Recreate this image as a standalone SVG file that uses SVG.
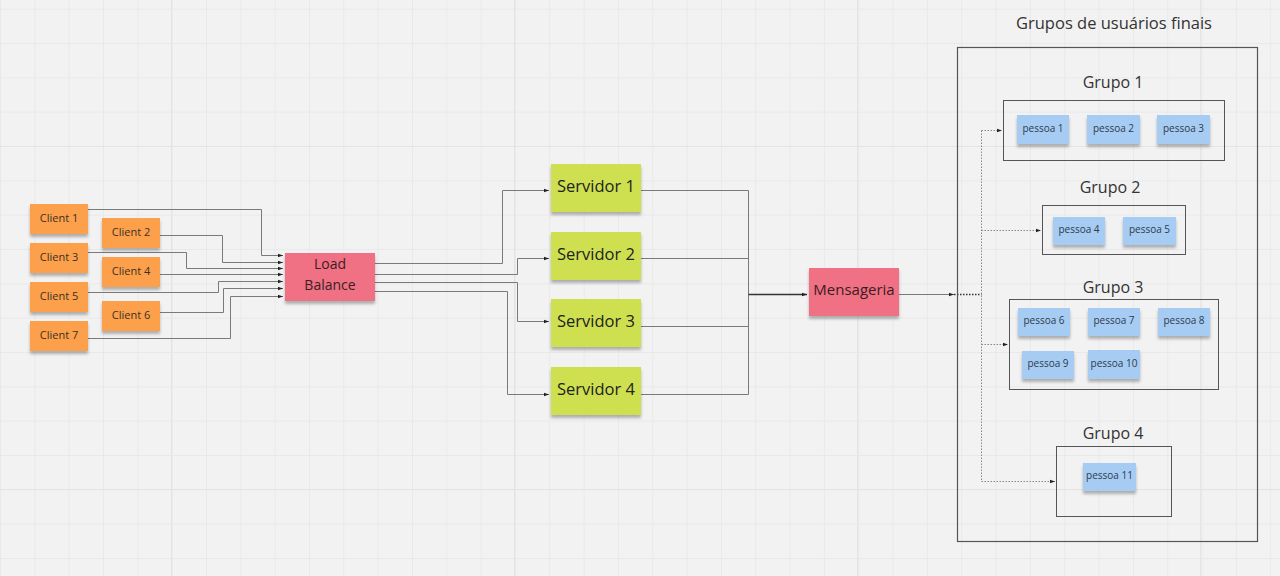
<svg xmlns="http://www.w3.org/2000/svg" width="1280" height="576" viewBox="0 0 1280 576">
<defs>
<pattern id="grid" x="0" y="8.7" width="34.33" height="34.33" patternUnits="userSpaceOnUse">
<path d="M0.5 0V34.33M0 0.5H34.33" stroke="#e9e9e9" stroke-width="1" fill="none"/>
</pattern>
<filter id="sh" x="-10%" y="-10%" width="120%" height="140%">
<feDropShadow dx="0" dy="3" stdDeviation="1.6" flood-color="#000" flood-opacity="0.28"/>
</filter>
<marker id="ar" viewBox="0 0 6 6" refX="6" refY="3" markerWidth="5" markerHeight="5" orient="auto" markerUnits="userSpaceOnUse">
<path d="M0 0.8L6 3L0 5.2Z" fill="#222"/>
</marker>
<style>
.orange{fill:#fda04c}
.green{fill:#cee04f}
.pink{fill:#f06f84}
.blue{fill:#a6ccf4}
.t{font-family:"Open Sans","Liberation Sans",sans-serif;fill:#222;text-anchor:middle;dominant-baseline:central}
.tc{font-size:11px;fill:#3a3026}
.ts{font-size:16.5px}
.tp{font-size:10px;fill:#2e3a4a}
.tg{font-size:16px;fill:#333}
.c{fill:none;stroke:#7a7a7a;stroke-width:1}
.d{fill:none;stroke:#888;stroke-width:1;stroke-dasharray:1.5 1.5}
.box{fill:none;stroke:#555;stroke-width:1}
</style>
</defs>
<rect width="1280" height="576" fill="#f2f2f2"/>
<rect width="1280" height="576" fill="url(#grid)"/>
<g stroke="#e4e4e4" stroke-width="1">
<line x1="171.5" y1="0" x2="171.5" y2="576"/>
<line x1="514.5" y1="0" x2="514.5" y2="576"/>
<line x1="857.5" y1="0" x2="857.5" y2="576"/>
<line x1="1200.5" y1="0" x2="1200.5" y2="576"/>
<line x1="0" y1="146.5" x2="1280" y2="146.5"/>
<line x1="0" y1="489.5" x2="1280" y2="489.5"/>
</g>

<g id="connectors">
<path class="c" d="M88 209.5H261.5V255.5H283" marker-end="url(#ar)"/>
<path class="c" d="M160 235.5H222.5V262.5H283" marker-end="url(#ar)"/>
<path class="c" d="M88 252.5H186.5V268.5H283" marker-end="url(#ar)"/>
<path class="c" d="M160 274.5H283" marker-end="url(#ar)"/>
<path class="c" d="M88 292.5H218.5V281.5H283" marker-end="url(#ar)"/>
<path class="c" d="M160 312.5H223.5V288.5H283" marker-end="url(#ar)"/>
<path class="c" d="M88 338.5H230.5V296.5H283" marker-end="url(#ar)"/>

<path class="c" d="M375 263.5H502.5V190.5H549" marker-end="url(#ar)"/>
<path class="c" d="M375 274.5H517.5V258.5H549" marker-end="url(#ar)"/>
<path class="c" d="M375 282.5H517.5V321.5H549" marker-end="url(#ar)"/>
<path class="c" d="M375 291.5H507.5V394.5H549" marker-end="url(#ar)"/>

<path class="c" d="M641 190.5H748.5V294.5"/>
<path class="c" d="M641 258.5H748.5V294.5"/>
<path class="c" d="M641 326.5H748.5V294.5"/>
<path class="c" d="M641 394.5H748.5V294.5"/>
<path d="M748.5 294.5H807" fill="none" stroke="#333" stroke-width="1.5" marker-end="url(#ar)"/>

<path class="c" d="M899 294.5H954" marker-end="url(#ar)"/>
<path d="M954 294.5H981.5" fill="none" stroke="#333" stroke-width="1.3" stroke-dasharray="1.5 1.5"/>
<path class="d" d="M981.5 130.5V481.5"/>
<path class="d" d="M981.5 130.5H1002" marker-end="url(#ar)"/>
<path class="d" d="M981.5 230.5H1041" marker-end="url(#ar)"/>
<path class="d" d="M981.5 344.5H1008" marker-end="url(#ar)"/>
<path class="d" d="M981.5 481.5H1055" marker-end="url(#ar)"/>
</g>

<g id="client1"><rect class="orange" x="30" y="204" width="58" height="30" filter="url(#sh)"/><text class="t tc" x="59" y="217">Client 1</text></g>
<g id="client2"><rect class="orange" x="102" y="218" width="58" height="30" filter="url(#sh)"/><text class="t tc" x="131" y="231">Client 2</text></g>
<g id="client3"><rect class="orange" x="30" y="243" width="58" height="30" filter="url(#sh)"/><text class="t tc" x="59" y="256">Client 3</text></g>
<g id="client4"><rect class="orange" x="102" y="257" width="58" height="30" filter="url(#sh)"/><text class="t tc" x="131" y="270">Client 4</text></g>
<g id="client5"><rect class="orange" x="30" y="282" width="58" height="30" filter="url(#sh)"/><text class="t tc" x="59" y="295">Client 5</text></g>
<g id="client6"><rect class="orange" x="102" y="301" width="58" height="30" filter="url(#sh)"/><text class="t tc" x="131" y="314">Client 6</text></g>
<g id="client7"><rect class="orange" x="30" y="321" width="58" height="30" filter="url(#sh)"/><text class="t tc" x="59" y="334">Client 7</text></g>

<g id="loadbalance"><rect class="pink" x="285" y="253" width="90" height="48" filter="url(#sh)"/><text class="t" style="font-size:14px;fill:#3a1e22" x="330" y="263">Load</text><text class="t" style="font-size:14px;fill:#3a1e22" x="330" y="284">Balance</text></g>

<g id="servidor1"><rect class="green" x="551" y="164" width="90" height="48" filter="url(#sh)"/><text class="t ts" x="596" y="185">Servidor 1</text></g>
<g id="servidor2"><rect class="green" x="551" y="232" width="90" height="48" filter="url(#sh)"/><text class="t ts" x="596" y="253">Servidor 2</text></g>
<g id="servidor3"><rect class="green" x="551" y="299" width="90" height="48" filter="url(#sh)"/><text class="t ts" x="596" y="320">Servidor 3</text></g>
<g id="servidor4"><rect class="green" x="551" y="367" width="90" height="48" filter="url(#sh)"/><text class="t ts" x="596" y="388">Servidor 4</text></g>

<g id="mensageria"><rect class="pink" x="809" y="268" width="90" height="48" filter="url(#sh)"/><text class="t" style="font-size:15px;fill:#3a1e22" x="854" y="289">Mensageria</text></g>

<g id="grupos">
<rect x="957.5" y="47.5" width="300" height="494" fill="none" stroke="#555" stroke-width="1.2"/>
<text class="t tg" style="font-size:16.5px" x="1114" y="22">Grupos de usuários finais</text>
</g>

<g id="grupo1">
<text class="t tg" x="1113" y="82">Grupo 1</text>
<rect class="box" x="1003.5" y="100.5" width="221" height="60"/>
<g id="pessoa1"><rect class="blue" x="1017" y="115" width="52" height="29" filter="url(#sh)"/><text class="t tp" x="1043" y="128">pessoa 1</text></g>
<g id="pessoa2"><rect class="blue" x="1087" y="115" width="53" height="29" filter="url(#sh)"/><text class="t tp" x="1113.5" y="128">pessoa 2</text></g>
<g id="pessoa3"><rect class="blue" x="1157" y="115" width="53" height="29" filter="url(#sh)"/><text class="t tp" x="1183.5" y="128">pessoa 3</text></g>
</g>

<g id="grupo2">
<text class="t tg" x="1110" y="187">Grupo 2</text>
<rect class="box" x="1042.5" y="205.5" width="143" height="49"/>
<g id="pessoa4"><rect class="blue" x="1053" y="217" width="52" height="28" filter="url(#sh)"/><text class="t tp" x="1079" y="229">pessoa 4</text></g>
<g id="pessoa5"><rect class="blue" x="1123" y="217" width="53" height="28" filter="url(#sh)"/><text class="t tp" x="1149.5" y="229">pessoa 5</text></g>
</g>

<g id="grupo3">
<text class="t tg" x="1113" y="287">Grupo 3</text>
<rect class="box" x="1009.5" y="299.5" width="209" height="90"/>
<g id="pessoa6"><rect class="blue" x="1018" y="308" width="52" height="28" filter="url(#sh)"/><text class="t tp" x="1044" y="320">pessoa 6</text></g>
<g id="pessoa7"><rect class="blue" x="1088" y="308" width="52" height="28" filter="url(#sh)"/><text class="t tp" x="1114" y="320">pessoa 7</text></g>
<g id="pessoa8"><rect class="blue" x="1158" y="308" width="52" height="28" filter="url(#sh)"/><text class="t tp" x="1184" y="320">pessoa 8</text></g>
<g id="pessoa9"><rect class="blue" x="1022" y="351" width="52" height="28" filter="url(#sh)"/><text class="t tp" x="1048" y="363">pessoa 9</text></g>
<g id="pessoa10"><rect class="blue" x="1088" y="350" width="52" height="29" filter="url(#sh)"/><text class="t tp" x="1114" y="362.5">pessoa 10</text></g>
</g>

<g id="grupo4">
<text class="t tg" x="1113" y="433">Grupo 4</text>
<rect class="box" x="1056.5" y="446.5" width="115" height="70"/>
<g id="pessoa11"><rect class="blue" x="1083" y="463" width="53" height="28" filter="url(#sh)"/><text class="t tp" x="1109.5" y="475">pessoa 11</text></g>
</g>
</svg>
